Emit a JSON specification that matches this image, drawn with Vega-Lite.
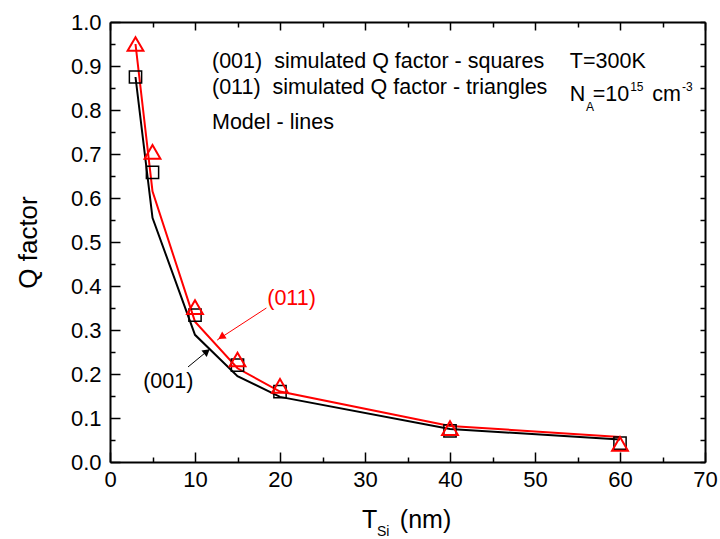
{
  "$schema": "https://vega.github.io/schema/vega-lite/v6.json",
  "width": 595,
  "height": 440,
  "autosize": "none",
  "padding": {"left": 110, "top": 22, "right": 15, "bottom": 77},
  "background": "white",
  "config": {
    "view": {"stroke": null},
    "font": "Liberation Sans",
    "axis": {
      "grid": false,
      "domainColor": "black",
      "domainWidth": 2,
      "tickColor": "black",
      "tickWidth": 1.5,
      "labelFont": "Liberation Sans",
      "labelFontSize": 22,
      "labelColor": "black",
      "labelFlush": false,
      "labelOverlap": false,
      "titleFont": "Liberation Sans",
      "titleFontSize": 26,
      "titleFontWeight": "normal",
      "titleColor": "black"
    }
  },
  "datasets": {
    "model": [
      {"t": 3, "q": 0.875, "orient": "001"},
      {"t": 5, "q": 0.555, "orient": "001"},
      {"t": 10, "q": 0.289, "orient": "001"},
      {"t": 15, "q": 0.195, "orient": "001"},
      {"t": 20, "q": 0.148, "orient": "001"},
      {"t": 40, "q": 0.075, "orient": "001"},
      {"t": 60, "q": 0.051, "orient": "001"},
      {"t": 3, "q": 0.95, "orient": "011"},
      {"t": 5, "q": 0.615, "orient": "011"},
      {"t": 10, "q": 0.319, "orient": "011"},
      {"t": 15, "q": 0.213, "orient": "011"},
      {"t": 20, "q": 0.16, "orient": "011"},
      {"t": 40, "q": 0.082, "orient": "011"},
      {"t": 60, "q": 0.057, "orient": "011"}
    ],
    "sim001": [
      {"t": 3, "q": 0.875},
      {"t": 5, "q": 0.658},
      {"t": 10, "q": 0.334},
      {"t": 15, "q": 0.22},
      {"t": 20, "q": 0.16},
      {"t": 40, "q": 0.071},
      {"t": 60, "q": 0.043}
    ],
    "sim011": [
      {"t": 3, "q": 0.95},
      {"t": 5, "q": 0.705},
      {"t": 10, "q": 0.352},
      {"t": 15, "q": 0.233},
      {"t": 20, "q": 0.173},
      {"t": 40, "q": 0.077},
      {"t": 60, "q": 0.041}
    ],
    "arrowRed": [{"xa": 18.4, "ya": 0.35, "xb": 12.6, "yb": 0.277}],
    "headRed": [{"xa": 13.1, "ya": 0.284}],
    "arrowBlack": [{"xa": 9.18, "ya": 0.216, "xb": 11.76, "yb": 0.257}],
    "headBlack": [{"xa": 11.4, "ya": 0.251}],
    "textMain": [
      {"xa": 12.0, "ya": 0.909, "label": "(001)\u00a0 simulated Q factor - squares"},
      {"xa": 12.0, "ya": 0.85, "label": "(011)\u00a0 simulated Q factor - triangles"},
      {"xa": 12.0, "ya": 0.77, "label": "Model - lines"},
      {"xa": 54.1, "ya": 0.91, "label": "T=300K"},
      {"xa": 54.1, "ya": 0.833, "label": "N"},
      {"xa": 56.8, "ya": 0.833, "label": "=10"},
      {"xa": 63.8, "ya": 0.833, "label": "cm"},
      {"xa": 3.9, "ya": 0.182, "label": "(001)"}
    ],
    "textSmall": [
      {"xa": 56.0, "ya": 0.807, "label": "A"},
      {"xa": 61.2, "ya": 0.852, "label": "15"},
      {"xa": 67.3, "ya": 0.852, "label": "-3"}
    ],
    "textRed": [{"xa": 18.5, "ya": 0.37, "label": "(011)"}],
    "titleBig": [
      {"xa": 29.65, "ya": -0.132, "label": "T"},
      {"xa": 34.1, "ya": -0.132, "label": "(nm)"}
    ],
    "titleSmall": [{"xa": 31.4, "ya": -0.16, "label": "Si"}]
  },
  "resolve": {"axis": {"x": "independent", "y": "independent"}},
  "layer": [
    {
      "data": {"name": "model"},
      "mark": {"type": "line", "strokeWidth": 2},
      "encoding": {
        "x": {
          "field": "t", "type": "quantitative",
          "scale": {"domain": [0, 70], "nice": false, "zero": false},
          "axis": {
            "orient": "bottom",
            "values": [0, 5, 10, 15, 20, 25, 30, 35, 40, 45, 50, 55, 60, 65, 70],
            "labelExpr": "datum.value % 10 === 0 ? datum.label : ''",
            "tickSize": {"condition": {"test": "datum.value % 10 === 0", "value": -10}, "value": -5},
            "labelPadding": 17,
            "title": null
          }
        },
        "y": {
          "field": "q", "type": "quantitative",
          "scale": {"domain": [0, 1], "nice": false},
          "axis": {
            "orient": "left",
            "values": [0, 0.05, 0.1, 0.15, 0.2, 0.25, 0.3, 0.35, 0.4, 0.45, 0.5, 0.55, 0.6, 0.65, 0.7, 0.75, 0.8, 0.85, 0.9, 0.95, 1.0],
            "labelExpr": "abs(datum.value * 10 - round(datum.value * 10)) < 0.001 ? format(datum.value, '.1f') : ''",
            "tickSize": {"condition": {"test": "abs(datum.value * 10 - round(datum.value * 10)) < 0.001", "value": -10}, "value": -5},
            "labelPadding": 19,
            "title": "Q factor",
            "titlePadding": 29
          }
        },
        "color": {"field": "orient", "type": "nominal", "scale": {"domain": ["001", "011"], "range": ["black", "#ff0000"]}, "legend": null}
      }
    },
    {
      "data": {"name": "sim001"},
      "mark": {"type": "point", "shape": "square", "size": 150, "filled": false, "stroke": "black", "strokeWidth": 1.5, "opacity": 1},
      "encoding": {
        "x": {
          "field": "t", "type": "quantitative",
          "axis": {
            "orient": "top",
            "values": [0, 5, 10, 15, 20, 25, 30, 35, 40, 45, 50, 55, 60, 65, 70],
            "labels": false,
            "tickSize": {"condition": {"test": "datum.value % 10 === 0", "value": -8}, "value": -5},
            "title": null
          }
        },
        "y": {
          "field": "q", "type": "quantitative",
          "axis": {
            "orient": "right",
            "values": [0, 0.05, 0.1, 0.15, 0.2, 0.25, 0.3, 0.35, 0.4, 0.45, 0.5, 0.55, 0.6, 0.65, 0.7, 0.75, 0.8, 0.85, 0.9, 0.95, 1.0],
            "labels": false,
            "tickSize": -5,
            "title": null
          }
        }
      }
    },
    {
      "data": {"name": "sim011"},
      "mark": {"type": "point", "shape": "triangle-up", "size": 250, "filled": false, "stroke": "#ff0000", "strokeWidth": 2, "opacity": 1},
      "encoding": {
        "x": {"field": "t", "type": "quantitative", "axis": null},
        "y": {"field": "q", "type": "quantitative", "axis": null}
      }
    },
    {
      "data": {"name": "arrowRed"},
      "mark": {"type": "rule", "color": "#ff0000", "strokeWidth": 1},
      "encoding": {
        "x": {"field": "xa", "type": "quantitative", "axis": null},
        "y": {"field": "ya", "type": "quantitative", "axis": null},
        "x2": {"field": "xb"},
        "y2": {"field": "yb"}
      }
    },
    {
      "data": {"name": "headRed"},
      "mark": {"type": "point", "shape": "triangle-up", "size": 70, "filled": true, "color": "#ff0000", "opacity": 1, "angle": 237},
      "encoding": {
        "x": {"field": "xa", "type": "quantitative", "axis": null},
        "y": {"field": "ya", "type": "quantitative", "axis": null}
      }
    },
    {
      "data": {"name": "arrowBlack"},
      "mark": {"type": "rule", "color": "black", "strokeWidth": 1},
      "encoding": {
        "x": {"field": "xa", "type": "quantitative", "axis": null},
        "y": {"field": "ya", "type": "quantitative", "axis": null},
        "x2": {"field": "xb"},
        "y2": {"field": "yb"}
      }
    },
    {
      "data": {"name": "headBlack"},
      "mark": {"type": "point", "shape": "triangle-up", "size": 70, "filled": true, "color": "black", "opacity": 1, "angle": 51},
      "encoding": {
        "x": {"field": "xa", "type": "quantitative", "axis": null},
        "y": {"field": "ya", "type": "quantitative", "axis": null}
      }
    },
    {
      "data": {"name": "textMain"},
      "mark": {"type": "text", "fontSize": 21.5, "align": "left", "baseline": "middle", "color": "black", "font": "Liberation Sans"},
      "encoding": {
        "x": {"field": "xa", "type": "quantitative", "axis": null},
        "y": {"field": "ya", "type": "quantitative", "axis": null},
        "text": {"field": "label"}
      }
    },
    {
      "data": {"name": "textSmall"},
      "mark": {"type": "text", "fontSize": 12, "align": "left", "baseline": "middle", "color": "black", "font": "Liberation Sans"},
      "encoding": {
        "x": {"field": "xa", "type": "quantitative", "axis": null},
        "y": {"field": "ya", "type": "quantitative", "axis": null},
        "text": {"field": "label"}
      }
    },
    {
      "data": {"name": "textRed"},
      "mark": {"type": "text", "fontSize": 21.5, "align": "left", "baseline": "middle", "color": "#ff0000", "font": "Liberation Sans"},
      "encoding": {
        "x": {"field": "xa", "type": "quantitative", "axis": null},
        "y": {"field": "ya", "type": "quantitative", "axis": null},
        "text": {"field": "label"}
      }
    },
    {
      "data": {"name": "titleBig"},
      "mark": {"type": "text", "fontSize": 25, "align": "left", "baseline": "middle", "color": "black", "font": "Liberation Sans", "clip": false},
      "encoding": {
        "x": {"field": "xa", "type": "quantitative", "axis": null},
        "y": {"field": "ya", "type": "quantitative", "axis": null},
        "text": {"field": "label"}
      }
    },
    {
      "data": {"name": "titleSmall"},
      "mark": {"type": "text", "fontSize": 14, "align": "left", "baseline": "middle", "color": "black", "font": "Liberation Sans", "clip": false},
      "encoding": {
        "x": {"field": "xa", "type": "quantitative", "axis": null},
        "y": {"field": "ya", "type": "quantitative", "axis": null},
        "text": {"field": "label"}
      }
    }
  ]
}
